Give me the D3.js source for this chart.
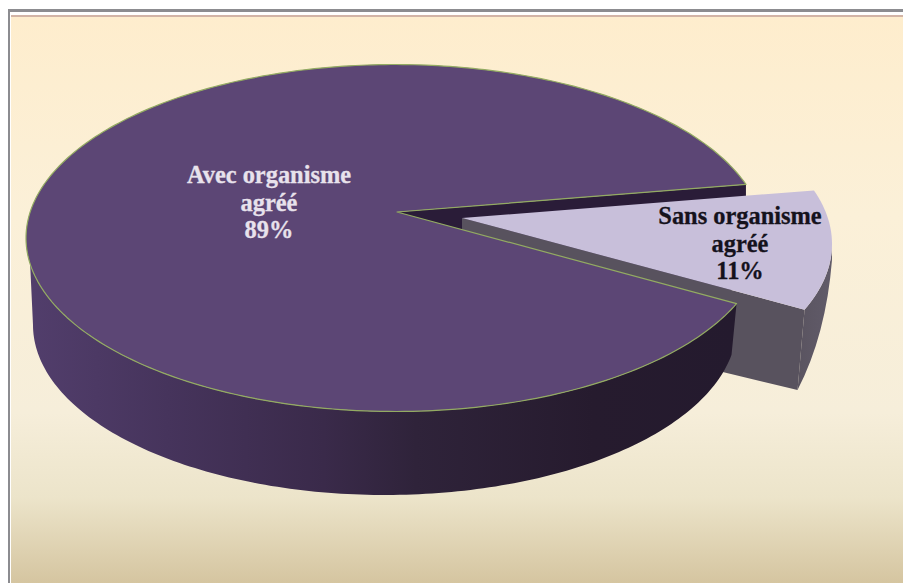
<!DOCTYPE html>
<html><head><meta charset="utf-8">
<script src="https://cdnjs.cloudflare.com/ajax/libs/d3/7.8.5/d3.min.js"></script>
<style>html,body{margin:0;padding:0;background:#fff}svg{display:block}</style>
</head><body><div id="c"></div>
<script>
const categories = ["Avec organisme agréé", "Sans organisme agréé"];
const values = [89, 11];
const labels = ["89%", "11%"];
const W = 903, H = 583;
const svg = d3.select("#c").append("svg").attr("width", W).attr("height", H);
const defs = svg.append("defs");
function grad(id, x1, y1, x2, y2, stops) {
  const g = defs.append("linearGradient").attr("id", id).attr("gradientUnits", "userSpaceOnUse")
    .attr("x1", x1).attr("y1", y1).attr("x2", x2).attr("y2", y2);
  stops.forEach(s => g.append("stop").attr("offset", s[0]).attr("stop-color", s[1]));
}
grad("bg", 0, 16, 0, 583, [[0, "#feedcd"], [0.35, "#fbf0d8"], [0.7, "#f6eeda"], [0.85, "#ece4ca"], [1, "#d5c5a0"]]);
grad("wall", 26, 0, 735, 0, [[0, "#523e6c"], [0.2, "#46345c"], [0.42, "#3a2a4a"], [0.55, "#2f233a"], [0.8, "#261b2e"], [1, "#241a2e"]]);
grad("sliceWall", 790, 0, 835, 0, [[0, "#58525e"], [1, "#625c6a"]]);

// frame
svg.append("rect").attr("x", 8).attr("y", 9).attr("width", W - 8).attr("height", H - 9).attr("fill", "#8c8c90");
svg.append("rect").attr("x", 10).attr("y", 12).attr("width", W - 10).attr("height", H - 12).attr("fill", "#fff");
svg.append("rect").attr("x", 11).attr("y", 15).attr("width", W - 11).attr("height", H - 15).attr("fill", "url(#bg)");
svg.append("rect").attr("x", 11).attr("y", 15).attr("width", W - 11).attr("height", 2).attr("fill", "#d2b4a6");

// pie geometry: a disc seen in perspective
const rimTop = { cx: 395, cy: 238, rx: 369, ry: 173.5, apexX: 397, apexY: 212 };
const rimBottom = { cx: 385, cy: 325, rx: 352, ry: 170 };
const k = (rimTop.apexY - rimTop.cy) / rimTop.ry;
const R = rimTop.rx * Math.sqrt(1 - k * k);
function project(theta) { // theta: screen angle, clockwise from +x
  const u = Math.cos(theta), v = Math.sin(theta), w = 1 + k * v;
  return [rimTop.cx + R * u / w, rimTop.cy + (rimTop.ry * v + (rimTop.apexY - rimTop.cy)) / w];
}
const deg = Math.PI / 180;
const arcs = d3.pie().sort(null).startAngle(120 * deg).endAngle(480 * deg)(values)
  .map(d => ({ start: d.startAngle - 90 * deg, end: d.endAngle - 90 * deg }));
const big = arcs[0], small = arcs[1];
const sweep = (a, b, n = 160) => d3.range(n + 1).map(i => a + (b - a) * i / n);
const line = d3.line();
const apex = [rimTop.apexX, rimTop.apexY];
const explode = [68, 6];
const shift = p => [p[0] + explode[0], p[1] + explode[1]];

const bottomPt = t => [rimBottom.cx + rimBottom.rx * Math.cos(t), rimBottom.cy + rimBottom.ry * Math.sin(t)];
const rightSil = 2 * Math.PI + Math.asin(-k);

// inner cut face of the big slice
const topEdge = project(big.end), lowEdge = project(big.start);
svg.append("path").attr("d", line([apex, topEdge, [topEdge[0], 290], [apex[0], 290]]) + "Z").attr("fill", "#2a1c38");

// small slice walls
const sApex = shift([apex[0] - 3, apex[1]]);
const sLow = shift(project(small.end));
const sBottom = [sLow[0] - 7, 390];
svg.append("path").attr("d", line([sApex, sLow, sBottom, [sApex[0], 309]]) + "Z").attr("fill", "#58525e");
const sOuter = d3.path();
const sSil = shift(project(rightSil));
sOuter.moveTo(sSil[0], sSil[1]);
sweep(rightSil, small.end, 40).slice(1).map(project).map(shift).forEach(p => sOuter.lineTo(p[0], p[1]));
sOuter.lineTo(sBottom[0], sBottom[1]);
sOuter.quadraticCurveTo(826, 335, sSil[0], sSil[1] + 16);
sOuter.closePath();
svg.append("path").attr("d", sOuter.toString()).attr("fill", "url(#sliceWall)");

// small slice top
const smallPts = sweep(small.start, small.end, 60).map(project).map(shift);
svg.append("path").attr("d", line([sApex, ...smallPts]) + "Z").attr("fill", "#c8bfda");

// big slice outer wall
const t1 = Math.acos((lowEdge[0] - 5 - rimBottom.cx) / rimBottom.rx);
const wallPts = [...sweep(big.start, 163 * deg, 120).map(project), ...sweep(Math.PI, t1, 160).map(bottomPt)];
svg.append("path").attr("d", line(wallPts) + "Z").attr("fill", "url(#wall)");

// big slice top
const bigPts = sweep(big.start, big.end, 300).map(project);
svg.append("path").attr("d", line([apex, ...bigPts]) + "Z")
  .attr("fill", "#5c4675").attr("stroke", "#93ab62").attr("stroke-width", 1.2).attr("stroke-linejoin", "round");

// labels
const splitName = s => { const i = s.lastIndexOf(" "); return [s.slice(0, i), s.slice(i + 1)]; };
const labelPos = [[269, 183], [740, 224]];
categories.forEach((c, i) => {
  const fill = i === 0 ? "#e8e2ec" : "#15121c";
  const t = svg.append("text").attr("text-anchor", "middle")
    .attr("font-family", "'Liberation Serif', serif").attr("font-weight", "bold").attr("font-size", 24.4)
    .attr("fill", fill).attr("stroke", fill).attr("stroke-width", 0.3);
  [...splitName(c), labels[i]].forEach((s, j) => {
    t.append("tspan").attr("x", labelPos[i][0]).attr("y", labelPos[i][1] + j * 27.5).text(s);
  });
});
</script></body></html>
